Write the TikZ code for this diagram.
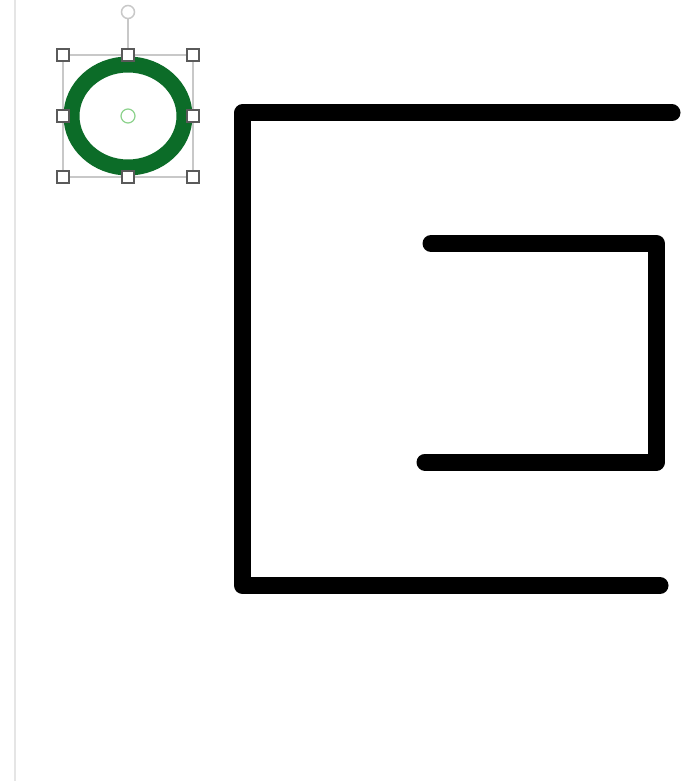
\documentclass[tikz,border=0pt]{standalone}
\usepackage{xcolor}
\definecolor{ringgreen}{RGB}{12,108,40}
\definecolor{selgray}{RGB}{200,200,200}
\definecolor{handlegray}{RGB}{90,90,90}
\definecolor{centergreen}{RGB}{140,210,140}
\tikzset{
  wall/.style={line width=17pt, line cap=round, line join=round, black},
  handlebox/.style={draw=handlegray, fill=white, line width=1.2pt, minimum size=12pt, inner sep=0pt, rectangle},
}
\begin{document}
\begin{tikzpicture}[x=1pt,y=-1pt]
\useasboundingbox (0,0) rectangle (680,781);
\fill[white] (0,0) rectangle (680,781);
% faint page edge
\draw[gray!20, line width=1.5pt] (15,0) -- (15,781);
% outer bracket
\coordinate (o1) at (672,113);
\coordinate (o2) at (242.5,113);
\coordinate (o3) at (242.5,585.5);
\coordinate (o4) at (660,585.5);
\draw[wall] (o1) -- (o2) -- (o3) -- (o4);
% inner bracket
\coordinate (i1) at (431,243.5);
\coordinate (i2) at (656.5,243.5);
\coordinate (i3) at (656.5,462);
\coordinate (i4) at (425,462);
\draw[wall] (i1) -- (i2) -- (i3) -- (i4);
% selection frame
\coordinate (c) at (128,116);
\draw[selgray, line width=1.5pt] (63,55) rectangle (193,177);
\draw[selgray, line width=1.5pt] (128,19) -- (128,55);
\draw[selgray, line width=1.5pt, fill=white] (128,12) circle (6.5);
% green ring
\draw[ringgreen, line width=16pt] (c) ellipse [x radius=56.5, y radius=51.5];
% center marker
\draw[centergreen, line width=1.2pt] (c) circle (7);
% handles
\foreach \hx/\hy [count=\k] in {63/55,128/55,193/55,63/116,193/116,63/177,128/177,193/177}
  \node[handlebox] (h\k) at (\hx,\hy) {};
\end{tikzpicture}
\end{document}
